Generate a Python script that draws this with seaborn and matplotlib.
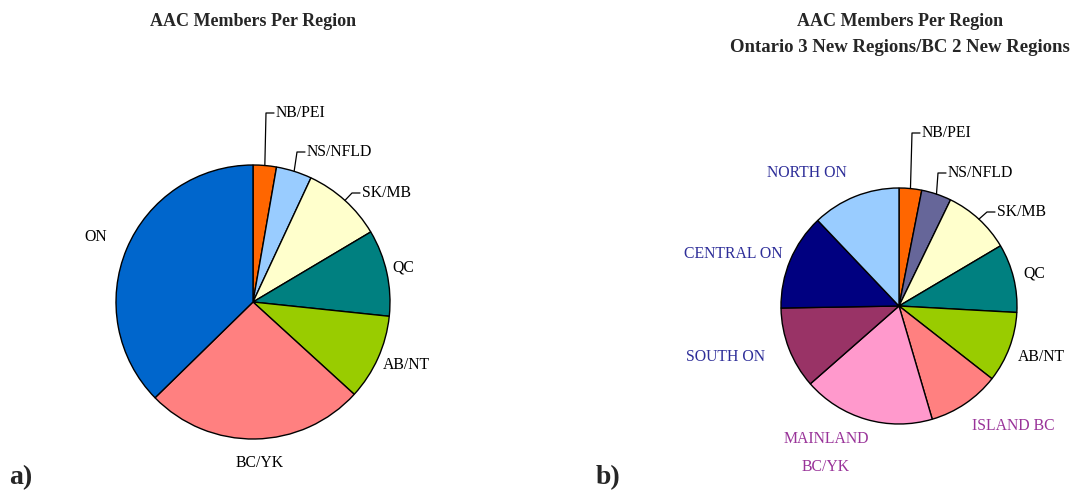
import numpy as np
import matplotlib
matplotlib.use('Agg')
import matplotlib.pyplot as plt
import seaborn as sns

sns.set_style('white')
plt.rcParams['font.family'] = ['Liberation Serif', 'DejaVu Serif']

# ─────────────────────────────────────────────
# DATA (share of members, %), clockwise from 12 o'clock
# ─────────────────────────────────────────────
regions_a = ['NB/PEI', 'NS/NFLD', 'SK/MB', 'QC', 'AB/NT', 'BC/YK', 'ON']
share_a = [2.75, 4.2, 9.5, 10.2, 10.1, 25.9, 37.3]

regions_b = ['NB/PEI', 'NS/NFLD', 'SK/MB', 'QC', 'AB/NT', 'ISLAND BC',
             'MAINLAND\nBC/YK', 'SOUTH ON', 'CENTRAL ON', 'NORTH ON']
share_b = [3.1, 4.1, 9.3, 9.4, 9.7, 9.9, 18.1, 11.2, 13.2, 12.1]

# ─────────────────────────────────────────────
# STYLE / LAYOUT (pixel coordinates, y measured from top)
# ─────────────────────────────────────────────
W, H = 1076, 490
colors_a = ['#FF6600', '#99CCFF', '#FFFFCC', '#008080', '#99CC00', '#FF8080', '#0066CC']
colors_b = ['#FF6600', '#666699', '#FFFFCC', '#008080', '#99CC00', '#FF8080',
            '#FF99CC', '#993366', '#000080', '#99CCFF']
ON_COL, BC_COL = '#2E2E99', '#993399'
txtcol_b = ['black'] * 5 + [BC_COL, BC_COL, ON_COL, ON_COL, ON_COL]

# label positions: (x, y, ha, leader)
pos_a = [(276, 113, 'left', True), (307, 152, 'left', True), (362, 193, 'left', True),
         (403, 267, 'center', False), (406, 365, 'center', False),
         (260, 463, 'center', False), (96, 237, 'center', False)]
pos_b = [(922, 133, 'left', True), (948, 173, 'left', True), (997, 212, 'left', True),
         (1034, 273, 'center', False), (1041, 357, 'center', False),
         (1013, 426, 'center', False), (826, 453, 'center', False),
         (726, 357, 'center', False), (733, 254, 'center', False),
         (807, 173, 'center', False)]

fig = plt.figure(figsize=(W / 100, H / 100), dpi=100)
ax = fig.add_axes([0, 0, 1, 1])


def draw_pie(values, colors, names, layout, center, radius, txtcols):
    cx, cy = center
    wedges, _ = ax.pie(values, colors=colors, startangle=90, counterclock=False,
                       center=(cx, H - cy), radius=radius,
                       wedgeprops=dict(edgecolor='black', linewidth=1.0))
    for w, name, (lx, ly, ha, leader), tc in zip(wedges, names, layout, txtcols):
        ax.text(lx, H - ly, name, ha=ha, va='center', fontsize=11.3, color=tc,
                linespacing=2.0)
        if leader:
            mid = np.deg2rad((w.theta1 + w.theta2) / 2)
            sx = cx + radius * np.cos(mid)
            sy = H - cy + radius * np.sin(mid)
            ax.plot([sx, lx - 10, lx - 2], [sy, H - ly, H - ly],
                    color='black', lw=0.9)


draw_pie(share_a, colors_a, regions_a, pos_a, (253, 302), 137, ['black'] * 7)
draw_pie(share_b, colors_b, regions_b, pos_b, (899, 306), 118, txtcol_b)

# pie() resets the limits, so fix the pixel mapping afterwards
ax.set_xlim(0, W)
ax.set_ylim(0, H)
ax.set_aspect('equal')
ax.axis('off')

ax.text(253, H - 22, 'AAC Members Per Region', ha='center', va='center',
        fontsize=13, fontweight='bold')
ax.text(900, H - 22, 'AAC Members Per Region', ha='center', va='center',
        fontsize=13, fontweight='bold')
ax.text(900, H - 48, 'Ontario 3 New Regions/BC 2 New Regions', ha='center',
        va='center', fontsize=13.5, fontweight='bold')
ax.text(9, H - 478, 'a)', ha='left', va='center', fontsize=20, fontweight='bold')
ax.text(596, H - 478, 'b)', ha='left', va='center', fontsize=20, fontweight='bold')

fig.savefig('out.png', dpi=100, facecolor='white')
